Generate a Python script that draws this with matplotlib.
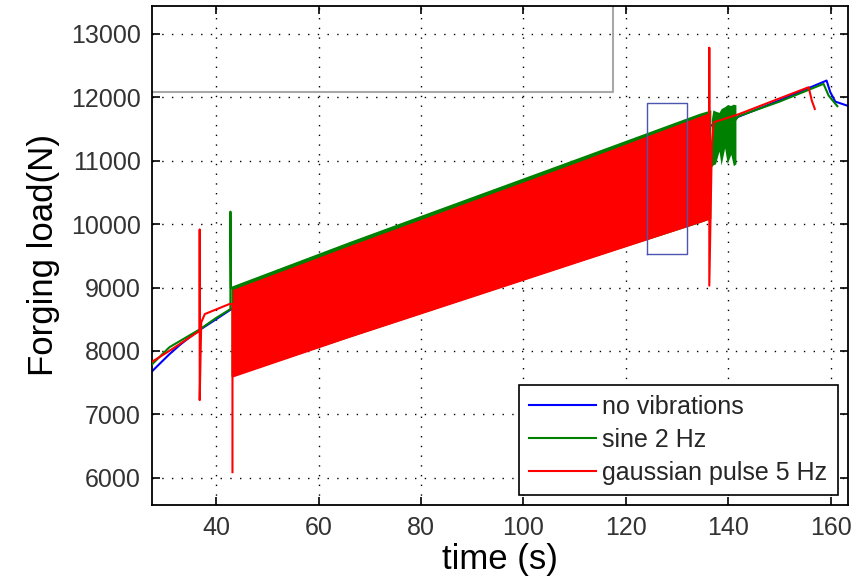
import matplotlib
matplotlib.use("Agg")
import matplotlib.pyplot as plt
import numpy as np

plt.rcParams['font.family'] = ['Liberation Sans', 'DejaVu Sans']

# ---- data ----
# no vibrations (blue)
blue_t = [27.5, 29.0, 30.9, 33.0, 36.0, 40.0, 43.0, 60.0, 80.0, 100.0, 120.0, 141.0, 150.0, 159.2, 159.9, 160.9, 163.3]
blue_y = [7680, 7800, 7950, 8100, 8290, 8500, 8660, 9350, 10000, 10600, 11150, 11660, 11950, 12262, 12083, 11930, 11865]

# sine 2 Hz (green) - lines before/after the vibrating part
green_pre_t = [27.5, 30.9, 36.8, 40.0, 42.8, 42.8, 42.9]
green_pre_y = [7790, 8060, 8340, 8520, 8660, 10196, 9000]
green_band_t = [42.9, 66.0, 90.0, 110.0, 134.3, 136.6]
green_band_hi = [9020, 9725, 10435, 11025, 11745, 11800]
green_band_lo = [7600, 8220, 8860, 9390, 10020, 10090]
green_vib_t = [136.7, 137.0, 137.5, 138.2, 138.6, 139.3, 139.8, 140.5, 141.0, 141.5]
green_vib_hi = [11650, 11800, 11780, 11760, 11820, 11850, 11880, 11870, 11890, 11880]
green_vib_lo = [10900, 10930, 10950, 11150, 10930, 11200, 10950, 11100, 10920, 10950]
green_post_t = [141.5, 142.0, 150.0, 158.6, 159.6, 161.3]
green_post_y = [11650, 11700, 11930, 12210, 12025, 11858]

# gaussian pulse 5 Hz (red)
red_pre_t = [27.5, 30.9, 36.8, 36.8, 36.8, 37.1, 37.8, 42.6, 43.2, 43.2]
red_pre_y = [7830, 8003, 8318, 9912, 7226, 8451, 8582, 8740, 8740, 6090]
red_band_t = [43.2, 66.0, 90.0, 110.0, 136.5]
red_band_hi = [8970, 9660, 10370, 10960, 11763]
red_band_lo = [7590, 8215, 8850, 9380, 10080]
red_post_t = [136.3, 136.3, 136.3, 136.8, 137.2, 142.0, 150.0, 155.7, 156.3, 156.9]
red_post_y = [11763, 12778, 9030, 11260, 11605, 11730, 11980, 12157, 11950, 11815]

# gray outline (top-left) and blue box
gray_t = [27.5, 117.5, 117.5]
gray_y = [12080, 12080, 13440]
box_t = [124.2, 131.9, 131.9, 124.2, 124.2]
box_y = [9533, 9533, 11915, 11915, 9533]

xlim = (27.5, 163.3)
ylim = (5570, 13440)
xticks = [40, 60, 80, 100, 120, 140, 160]
yticks = [6000, 7000, 8000, 9000, 10000, 11000, 12000, 13000]

labels = ['no vibrations', 'sine 2 Hz', 'gaussian pulse 5 Hz']

# ---- plot ----
fig = plt.figure(figsize=(8.64, 5.80), dpi=100)
ax = fig.add_axes([0.176, 0.129, 0.805, 0.861])

blue = '#0000ff'
green = '#008000'
red = '#ff0000'

lb, = ax.plot(blue_t, blue_y, color=blue, lw=1.5, zorder=2)
lg, = ax.plot(green_pre_t, green_pre_y, color=green, lw=1.5, zorder=3)
ax.fill_between(green_band_t, green_band_lo, green_band_hi, color=green, lw=0, zorder=3)
ax.fill_between(green_vib_t, green_vib_lo, green_vib_hi, color=green, lw=0, zorder=3)
ax.plot(green_post_t, green_post_y, color=green, lw=1.5, zorder=3)
lr, = ax.plot(red_pre_t, red_pre_y, color=red, lw=1.5, zorder=4)
ax.fill_between(red_band_t, red_band_lo, red_band_hi, color=red, lw=0, zorder=4)
ax.plot(red_post_t, red_post_y, color=red, lw=1.5, zorder=4)

ax.plot(gray_t, gray_y, color='#a8a8a8', lw=1.5, zorder=1)
ax.plot(box_t, box_y, color='#4a56b0', lw=1.0, zorder=5)

ax.set_xlim(*xlim)
ax.set_ylim(*ylim)
ax.set_xticks(xticks)
ax.set_yticks(yticks)
ax.grid(True, color='black', linestyle=(0, (1, 6)), lw=1.0)
ax.tick_params(direction='in', length=6, width=1.2, top=True, right=True,
               labelsize=18, labelcolor='#333333', pad=8)
for s in ax.spines.values():
    s.set_linewidth(1.3)

ax.set_xlabel('time (s)', fontsize=25, labelpad=2)
ax.set_ylabel('Forging load(N)', fontsize=25, labelpad=8)

leg = ax.legend([lb, lg, lr], labels, loc='lower right', fontsize=18,
                frameon=True, fancybox=False, framealpha=1, edgecolor='black',
                handlelength=2.7, handletextpad=0.25, labelspacing=0.36,
                borderaxespad=0.4, borderpad=0.4)
leg.get_frame().set_linewidth(1.2)
for t in leg.get_texts():
    t.set_color('#262626')

fig.savefig('out.png', dpi=100)
